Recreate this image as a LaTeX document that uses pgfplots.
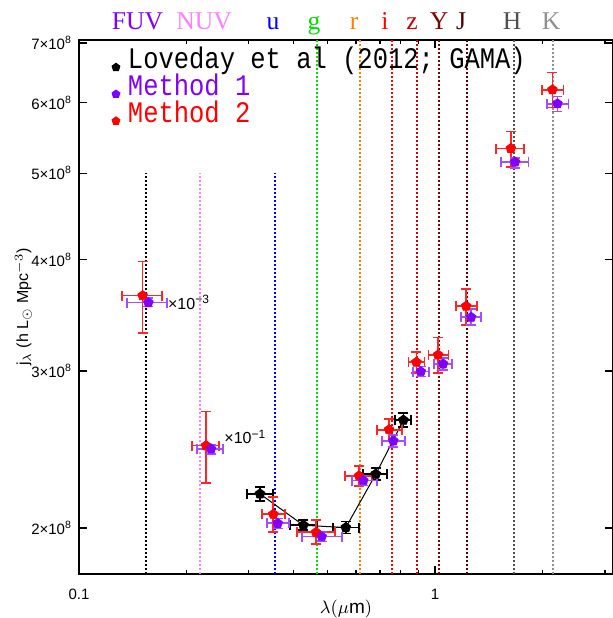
\documentclass[border=0pt]{standalone}
\usepackage{fontspec}
\setmainfont{Liberation Sans}
\newfontfamily\monofont{Liberation Mono}
\newfontfamily\romfont{Liberation Serif}
\usepackage{pgfplots}
\pgfplotsset{compat=1.18}
\usepackage{pgfplotstable}

\definecolor{fuv}{HTML}{8000FF}
\definecolor{nuv}{HTML}{FF80FF}
\definecolor{uband}{HTML}{0000FF}
\definecolor{gband}{HTML}{00E000}
\definecolor{rband}{HTML}{FF8000}
\definecolor{iband}{HTML}{FF0000}
\definecolor{zband}{HTML}{CC0000}
\definecolor{yband}{HTML}{800000}
\definecolor{jband}{HTML}{500000}
\definecolor{hband}{HTML}{505050}
\definecolor{kband}{HTML}{909090}

% y in units of 1e8 h Lsun Mpc^-3
\pgfplotstableread{
x      y     xlo    xhi    ylo   yhi
0.3224 2.184 0.2965 0.3507 2.146 2.224
0.4267 2.014 0.3914 0.4661 1.988 2.040
0.5614 2.002 0.5170 0.6116 1.971 2.033
0.6815 2.298 0.6264 0.7345 2.262 2.334
0.8147 2.642 0.7720 0.8560 2.594 2.690
}\loveday

\pgfplotstableread{
x      y     xlo    xhi    ylo   yhi
0.1509 3.645 0.1318 0.1714 3.307 3.980
0.2274 2.474 0.2073 0.2478 2.245 2.701
0.3514 2.072 0.3260 0.3790 1.981 2.168
0.4631 1.978 0.4089 0.5238 1.919 2.042
0.6116 2.288 0.5588 0.6641 2.229 2.348
0.7425 2.578 0.6859 0.8063 2.506 2.651
0.8860 3.069 0.8414 0.9333 2.983 3.149
1.0195 3.127 0.9576 1.0900 2.983 3.270
1.2224 3.547 1.1430 1.3093 3.379 3.709
1.6317 5.329 1.4808 1.7783 5.079 5.569
2.1357 6.203 1.9943 2.2935 5.925 6.486
}\methodtwo

\pgfplotstableread{
x      y     xlo    xhi    ylo   yhi
0.1566 3.580 0.1361 0.1764 3.543 3.623
0.2349 2.453 0.2145 0.2538 2.420 2.480
0.3615 2.024 0.3368 0.3896 1.998 2.050
0.4805 1.956 0.4223 0.5470 1.931 1.981
0.6289 2.260 0.5834 0.6859 2.231 2.290
0.7634 2.504 0.7085 0.8235 2.466 2.543
0.9118 2.995 0.8659 0.9601 2.957 3.034
1.0531 3.055 0.9937 1.1142 3.008 3.103
1.2626 3.447 1.1808 1.3470 3.377 3.519
1.6778 5.146 1.5298 1.8285 5.070 5.200
2.2058 5.982 2.0601 2.3677 5.864 6.096
}\methodone

\pgfplotsset{
  errs/.style={
    error bars/.cd, x dir=both, y dir=both, x explicit, y explicit,
    error mark=-,
    error bar style={line width=0.85pt, solid, #1},
    error mark options={rotate=90, mark size=2.5pt, line width=0.85pt, solid, #1},
  },
  filt/.style={line width=0.9pt, dash pattern=on 0.9pt off 1.1pt, forget plot},
}
\tikzset{band/.style={anchor=base, yshift=5pt, text=#1, font=\romfont\fontsize{12.8}{14}\selectfont}}

\begin{document}
\begin{tikzpicture}
\begin{axis}[name=main,
  scale only axis, width=267pt, height=267pt,
  xmode=log, ymode=log,
  xmin=0.1, xmax=3.16, ymin=1.776, ymax=7.054,
  xtick={0.1,1}, xticklabels={0.1,1},
  minor xtick={0.2,0.3,0.4,0.5,0.6,0.7,0.8,0.9,2,3},
  ytick={2,3,4,5,6,7},
  yticklabels={2×10\textsuperscript{8},3×10\textsuperscript{8},4×10\textsuperscript{8},5×10\textsuperscript{8},6×10\textsuperscript{8},7×10\textsuperscript{8}},
  minor ytick={},
  tick pos=both, tick align=inside,
  major tick length=4pt, minor tick length=2.2pt,
  tick style={black, line width=0.6pt},
  axis line style={line width=0.8pt},
  ticklabel style={font=\fontsize{7.5}{9}\selectfont},
  xticklabel style={yshift=-4pt},
  xlabel={$\lambda(\mu\mathrm{m})$},
  xlabel style={at={(axis description cs:0.5,-0.066)}, anchor=center, font=\fontsize{9.5}{11}\selectfont},
  ylabel={j$_\lambda$ (h L$_\odot$ Mpc$^{-3}$)},
  ylabel style={at={(axis description cs:-0.104,0.5)}, anchor=center, font=\fontsize{8}{10}\selectfont},
  clip=false,
  legend style={at={(axis description cs:0.061,0.995)}, anchor=north west,
    draw=none, fill=none, font=\monofont\fontsize{12.75}{13}\selectfont,
    row sep=-2.9pt, inner sep=0pt,
    /tikz/every odd column/.append style={column sep=2pt}},
  legend cell align=left,
  legend image code/.code={\draw[#1] plot coordinates {(0pt,-4pt)};},
]
% filter wavelengths
\addplot[black, filt] coordinates {(0.1543,1.776) (0.1543,5)};
\addplot[nuv, filt] coordinates {(0.2187,1.776) (0.2187,5)};
\addplot[uband, filt] coordinates {(0.355,1.776) (0.355,5)};
\addplot[gband, filt] coordinates {(0.467,1.776) (0.467,7.054)};
\addplot[rband, filt] coordinates {(0.616,1.776) (0.616,7.054)};
\addplot[iband, filt] coordinates {(0.757,1.776) (0.757,7.054)};
\addplot[zband, filt] coordinates {(0.890,1.776) (0.890,7.054)};
\addplot[yband, filt] coordinates {(1.026,1.776) (1.026,7.054)};
\addplot[jband, filt] coordinates {(1.230,1.776) (1.230,7.054)};
\addplot[hband, filt] coordinates {(1.667,1.776) (1.667,7.054)};
\addplot[kband, filt] coordinates {(2.146,1.776) (2.146,7.054)};

\addplot[black, line width=0.5pt, mark=pentagon*, mark size=2.5pt, forget plot,
  errs={black}]
  table[x=x, y=y,
    x error plus expr=\thisrow{xhi}-\thisrow{x}, x error minus expr=\thisrow{x}-\thisrow{xlo},
    y error plus expr=\thisrow{yhi}-\thisrow{y}, y error minus expr=\thisrow{y}-\thisrow{ylo}]{\loveday};

\addplot[only marks, red, mark=pentagon*, mark size=2.5pt, forget plot,
  errs={red!85!white}]
  table[x=x, y=y,
    x error plus expr=\thisrow{xhi}-\thisrow{x}, x error minus expr=\thisrow{x}-\thisrow{xlo},
    y error plus expr=\thisrow{yhi}-\thisrow{y}, y error minus expr=\thisrow{y}-\thisrow{ylo}]{\methodtwo};

\addplot[only marks, fuv, mark=pentagon*, mark size=2.5pt, forget plot,
  errs={fuv!70!white}]
  table[x=x, y=y,
    x error plus expr=\thisrow{xhi}-\thisrow{x}, x error minus expr=\thisrow{x}-\thisrow{xlo},
    y error plus expr=\thisrow{yhi}-\thisrow{y}, y error minus expr=\thisrow{y}-\thisrow{ylo}]{\methodone};

\addlegendimage{only marks, black, mark=pentagon*, mark size=2.1pt}
\addlegendentry{\scalebox{1}[1.17]{Loveday et al (2012; GAMA)}}
\addlegendimage{only marks, fuv, mark=pentagon*, mark size=2.1pt}
\addlegendentry{\scalebox{1}[1.17]{\textcolor{fuv}{Method 1}}}
\addlegendimage{only marks, red, mark=pentagon*, mark size=2.1pt}
\addlegendentry{\scalebox{1}[1.17]{\textcolor{red}{Method 2}}}

\node[anchor=west, inner sep=0.5pt, font=\fontsize{8}{9}\selectfont] at (axis cs:0.1764,3.58) {×10\textsuperscript{−3}};
\node[anchor=west, inner sep=0.5pt, font=\fontsize{8}{9}\selectfont] at (axis cs:0.2538,2.53) {×10\textsuperscript{−1}};

\node[band=fuv] at (axis cs:0.146,7.054) {FUV};
\node[band=nuv] at (axis cs:0.2245,7.054) {NUV};
\node[band=uband] at (axis cs:0.3509,7.054) {u};
\node[band=gband] at (axis cs:0.4572,7.054) {g};
\node[band=rband] at (axis cs:0.5922,7.054) {r};
\node[band=iband] at (axis cs:0.7236,7.054) {i};
\node[band=zband] at (axis cs:0.8617,7.054) {z};
\node[band=yband] at (axis cs:1.026,7.054) {Y};
\node[band=jband] at (axis cs:1.183,7.054) {J};
\node[band=hband] at (axis cs:1.646,7.054) {H};
\node[band=kband] at (axis cs:2.118,7.054) {K};
\end{axis}
\pgfresetboundingbox
\path[use as bounding box] ([xshift=-39.5pt,yshift=-22pt]main.south west) rectangle ([xshift=-0.5pt,yshift=20pt]main.north east);
\end{tikzpicture}
\end{document}
